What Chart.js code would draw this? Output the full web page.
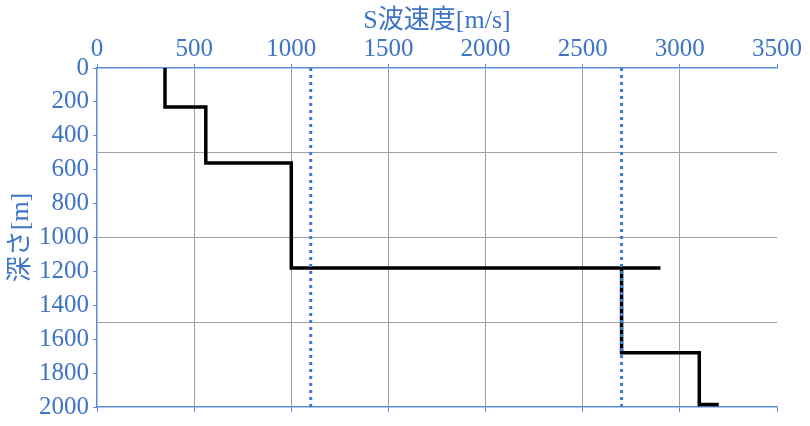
<!DOCTYPE html>
<html>
<head>
<meta charset="utf-8">
<script src="https://cdn.jsdelivr.net/npm/chart.js@4/dist/chart.umd.min.js"></script>
<style>
html,body{margin:0;padding:0;background:#fff;}
canvas{display:block;}
</style>
</head>
<body>
<canvas id="c" width="810" height="426"></canvas>
<script>
// Velocity profile (S-wave velocity vs depth), step line
const velocity = [350, 350, 560, 560, 1000, 1000, 2900, 2700, 2700, 3100, 3100, 3200];
const depth    = [0, 230, 230, 560, 560, 1180, 1180, 1180, 1680, 1680, 1985, 1985];
// Reference (dotted) velocity lines
const refVelocities = [1100, 2700];
const refDepthRange = [0, 2000];
const xTitle = 'S波速度[m/s]';
const yTitle = '深さ[m]';

const BLUE_TEXT = '#3D74C6';
const BLUE_AXIS = '#5B8DD4';
const GRID = '#A0A0A0';
const FONT = '"Liberation Serif", "Noto Sans CJK JP", serif';

const datasets = [{
  data: velocity.map((v, i) => ({x: v, y: depth[i]})),
  showLine: true,
  borderColor: '#000000',
  borderWidth: 3.5,
  pointRadius: 0,
  fill: false,
  tension: 0,
  order: 2
}];
refVelocities.forEach(v => {
  datasets.push({
    data: refDepthRange.map(d => ({x: v, y: d})),
    showLine: true,
    borderColor: '#3A7BD5',
    borderWidth: 3,
    borderDash: [3, 4],
    borderCapStyle: 'butt',
    pointRadius: 0,
    fill: false,
    order: 1
  });
});

new Chart(document.getElementById('c'), {
  type: 'scatter',
  data: {datasets},
  options: {
    responsive: false,
    animation: false,
    layout: {padding: {left: 0, right: 33, top: 0, bottom: 0}},
    plugins: {legend: {display: false}, tooltip: {enabled: false}},
    scales: {
      x: {
        type: 'linear',
        position: 'top',
        min: 0, max: 3500,
        afterFit: s => { s.height = 68; },
        ticks: {stepSize: 500, color: BLUE_TEXT, font: {family: FONT, size: 25}, padding: 0, maxRotation: 0,
                callback: v => String(v)},
        grid: {
          color: c => (c.tick && c.tick.value > 0 && c.tick.value < 3500) ? GRID : 'rgba(0,0,0,0)',
          lineWidth: 1,
          tickColor: BLUE_AXIS,
          tickLength: 4
        },
        border: {color: BLUE_AXIS, width: 1.5},
        title: {display: true, text: xTitle, color: BLUE_TEXT, font: {family: FONT, size: 26}, padding: {top: 6, bottom: 0}}
      },
      x2: {
        type: 'linear',
        position: 'bottom',
        min: 0, max: 3500,
        afterFit: s => { s.height = 18; },
        ticks: {stepSize: 500, callback: () => '', font: {size: 1}},
        grid: {drawOnChartArea: false, tickColor: BLUE_AXIS, tickLength: 5},
        border: {color: BLUE_AXIS, width: 1.5}
      },
      y: {
        type: 'linear',
        reverse: true,
        min: 0, max: 2000,
        afterFit: s => { s.width = 97; },
        ticks: {
          stepSize: 100,
          autoSkip: false,
          color: BLUE_TEXT,
          font: {family: FONT, size: 25},
          padding: 4,
          callback: v => (v % 200 === 0 ? String(v) : '')
        },
        grid: {
          color: c => (c.tick && c.tick.value % 500 === 0 && c.tick.value > 0 && c.tick.value < 2000) ? GRID : 'rgba(0,0,0,0)',
          lineWidth: 1,
          tickColor: c => (c.tick && c.tick.value % 200 === 0) ? BLUE_AXIS : 'rgba(0,0,0,0)',
          tickLength: 4
        },
        border: {color: BLUE_AXIS, width: 1.5},
        title: {display: true, text: yTitle, color: BLUE_TEXT, font: {family: FONT, size: 26}, padding: {top: 6, bottom: 0}}
      }
    }
  }
});
</script>
</body>
</html>
